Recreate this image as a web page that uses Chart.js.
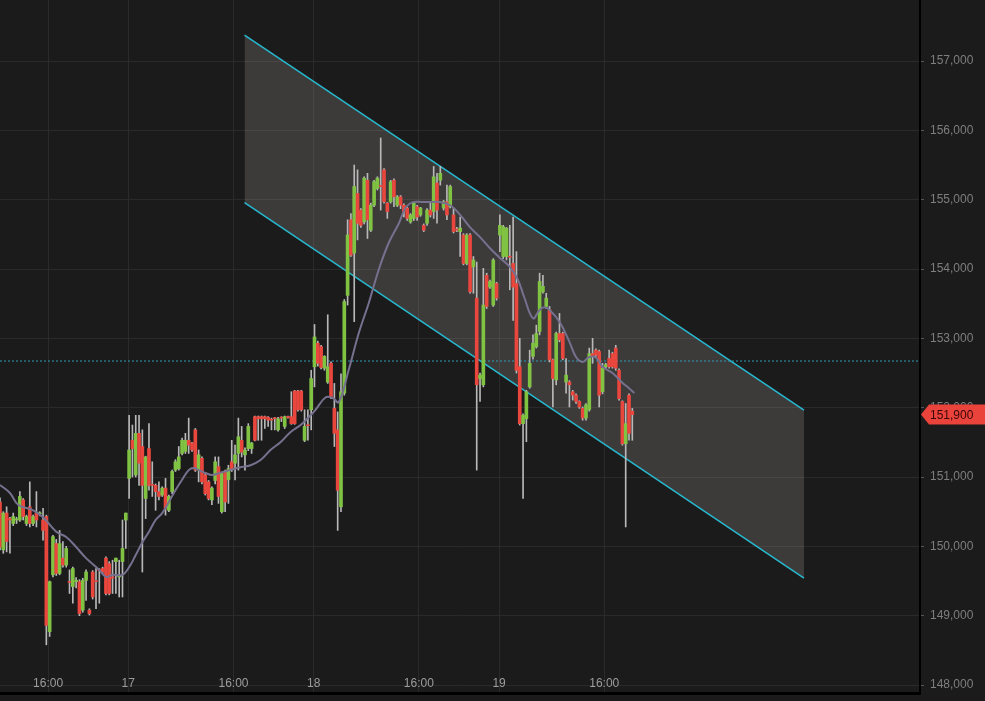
<!DOCTYPE html>
<html>
<head>
<meta charset="utf-8">
<script src="https://cdn.jsdelivr.net/npm/chart.js@4.4.1/dist/chart.umd.min.js"></script>
<style>
  html, body { margin: 0; padding: 0; background: #1c1b1b; }
  #wrap { width: 985px; height: 701px; position: relative; }
</style>
</head>
<body>
<div id="wrap"><canvas id="grafico"></canvas></div>
<script>
// candles (one per index), prices
const open = [150640,149950,150480,150400,150330,150380,150380,150670,150330,150570,150330,150480,150470,150380,150430,148770,149590,150040,149610,149830,149730,149490,149420,149490,149490,149080,149510,149080,149630,149500,149660,149680,149830,149750,149560,149780,149560,149780,150380,150980,151530,151030,151630,151440,150690,151410,150890,150880,150790,150740,150840,150520,150790,151100,151120,151340,151370,151530,151490,151680,151100,151270,151030,150930,150670,150950,151150,150500,151080,150960,151220,151200,151340,151530,151320,151410,151410,151870,151870,151870,151870,151860,151830,151850,151680,151860,151730,151870,151870,152240,152240,152240,151530,151750,151970,152590,152930,152880,152570,152370,152640,151990,151680,150570,152210,153620,154710,154230,155090,154850,154680,155280,154560,154920,155160,155200,155430,154950,154970,155280,154920,155040,154920,154880,154680,154730,154900,154780,154630,154660,154850,154830,155240,155280,154880,154970,154900,154780,154570,154540,154490,154080,154490,154030,153580,152420,152330,153910,153740,153480,153790,154490,154180,154180,154180,154080,153790,152590,151770,151840,152300,152740,152880,153100,153670,153460,153410,152690,152400,153070,153070,152370,152370,152230,152180,152090,151990,151850,151970,152780,152830,152810,152230,152590,152710,152780,152860,152540,152090,151480,152180,151950]
const high = [150700,150500,150570,150420,150480,150420,150790,150690,150450,150930,150450,150790,150500,150550,150450,149500,150160,150100,150230,150070,150000,149660,149700,149550,149520,149540,149660,149100,149650,149680,149680,149700,149850,149780,149800,149830,149800,150380,150480,151890,151750,151890,151890,151680,151300,151770,151220,150900,150930,150860,150980,150740,151100,151250,151440,151560,151630,151850,151500,151700,151390,151290,151050,150950,150860,151290,151290,151070,151100,151170,151530,151460,151850,151730,151420,151770,151500,151880,151880,151880,151880,151870,151850,151860,151860,151870,151880,151880,152230,152250,152250,152250,151970,151970,152540,153200,152960,152900,152750,153340,152660,152350,151940,152490,153560,154710,154800,155500,155430,154870,155330,155380,154950,155280,155330,155890,155450,154960,155280,155300,155060,155060,154940,154890,154800,154960,154920,154890,154650,154870,154970,155480,155380,155480,154990,155210,155210,154880,154600,154750,154510,154510,154510,154180,154100,152500,154010,153940,153840,154150,153810,154780,154630,154600,154630,154750,154250,153000,151910,152250,152830,153050,153190,153940,153910,153650,153460,152700,153090,153360,153090,152710,152390,152250,152200,152100,152010,152060,152860,153000,152850,152830,152640,152640,152830,152800,152900,152560,152100,152060,152200,151990]
const low = [149950,149900,149920,149900,150300,150330,150360,150380,150300,150280,150300,150280,150440,150090,148580,148700,149560,149580,149590,149700,149700,149320,149180,149400,149000,149050,149220,149010,149240,149100,149180,149600,149300,149300,149320,149320,149270,149270,149970,150690,151000,151000,150880,149630,150400,150810,150720,150520,150670,150720,150450,150500,150760,151080,151100,151320,151340,151340,151370,151080,150930,150900,150740,150670,150600,150900,150620,150480,150500,150620,151080,150960,151100,151290,151100,151380,151340,151520,151530,151530,151700,151730,151680,151680,151660,151800,151700,151850,151760,151760,151950,151950,151510,151530,151680,152300,152600,152560,152540,152350,152130,151440,150230,150500,152180,153480,154180,153240,154420,154600,154650,154440,154540,154900,155140,154850,154950,154730,154950,154900,154900,154870,154750,154700,154660,154700,154700,154760,154540,154630,154750,154730,154660,155210,154850,154710,154880,154520,154540,154180,154060,154060,153650,153650,151100,152090,152300,153430,153720,153460,153550,154250,154150,154130,153700,153260,152500,151750,150690,151510,152280,152700,152860,153050,153650,153430,152660,152010,152330,152950,152690,152210,152010,152110,152060,151990,151820,151820,151950,152640,152740,152010,152200,152570,152570,152570,152540,152110,151460,150280,151530,151530]
const close = [149990,150480,150070,150380,150430,150390,150720,150430,150430,150330,150430,150380,150480,150230,148860,149490,150140,149610,150040,149730,149970,149480,149680,149510,149030,149510,149630,149030,149270,149490,149650,149630,149320,149320,149540,149830,149570,149970,150480,151390,151410,151630,151200,150880,151290,150880,150880,150790,150720,150840,150550,150720,151080,151220,151290,151530,151530,151460,151390,151100,151320,150930,150760,150690,150840,151220,150720,151050,150640,151120,151120,151320,151580,151360,151390,151730,151490,151530,151840,151840,151840,151820,151820,151840,151840,151850,151870,151860,151770,151770,151970,151970,151730,151740,152420,153020,152640,152580,152740,152590,152160,151630,150810,152230,153530,154490,154200,155190,154660,154630,155310,154710,154920,155260,155310,155190,154970,154830,155260,155040,155040,154920,154830,154730,154780,154950,154750,154880,154560,154850,154780,155330,154850,155380,154970,154780,155190,154540,154560,154590,154080,154490,153670,154130,152330,152470,153480,153460,153820,154130,153580,154630,154610,154590,154170,153740,152540,151770,151890,152230,152640,152930,153070,153820,153750,153580,152690,152420,153070,152980,152710,152470,152330,152180,152090,152010,151850,152040,152780,152740,152760,152180,152570,152620,152590,152590,152570,152130,151480,151770,151630,151900]

// moving average line (candle index, price)
const maIndex = [0,3,5.5,10,13,17,20,23,26,30,32,34,37,39,41,43,45,47,49,51,53,55,57,58.5,60,62,64,66.5,69.5,72.6,75.7,78.7,81.7,84.8,87.8,90.8,93.8,95.3,98.4,100.5,102.3,105.3,108.4,111.4,114.4,117.4,120.5,122.6,124.7,127.7,130,133,136,139,142,145,148,151,154,156.5,158.3,161,163,164.4,166,169,172,174,176,178,180,182,185,188,190,191.6]
const maValue = [150885,150770,150600,150520,150420,150210,150135,149990,149830,149660,149560,149590,149590,149700,149875,150060,150210,150380,150480,150640,150810,150960,151100,151130,151100,151060,151030,151060,151100,151140,151170,151245,151390,151505,151650,151750,151890,151970,152150,152140,152080,152540,153080,153510,153990,154375,154660,154890,154965,154965,154965,154965,154920,154780,154600,154460,154300,154160,154030,153840,153600,153290,153410,153450,153410,153240,152950,152730,152660,152730,152720,152590,152500,152360,152280,152210]

// regression channel ends
const channelIndex = [73.86, 242.86]
const channelUpper = [157375, 151966]
const channelLower = [154956, 149543]
const dottedLevel = 152673

// axes
const xTickPos = [14.53, 38.75, 70.53, 94.75, 126.53, 150.75, 182.53]
const xTickText = ['16:00', '17', '16:00', '18', '16:00', '19', '16:00']
const yTickValues = [148000, 149000, 150000, 151000, 152000, 153000, 154000, 155000, 156000, 157000]
const lastPrice = close[close.length - 1]

const xMax = 277.9

const wicks = low.map((l, i) => ({ x: i, y: [l, high[i]] }))
const bodies = open.map((o, i) => ({ x: i, y: [o, close[i]] }))
const bodyColors = open.map((o, i) => close[i] >= o ? '#80c343' : '#e9473d')
const maPoints = maIndex.map((x, i) => ({ x: x, y: maValue[i] }))

const priceTag = {
    id: 'priceTag',
    afterDraw(chart) {
        const ctx = chart.ctx
        const left = chart.chartArea.right + 1
        const y = chart.scales.y.getPixelForValue(lastPrice)
        ctx.save()
        ctx.fillStyle = '#ea433c'
        ctx.beginPath()
        ctx.moveTo(left, y)
        ctx.lineTo(left + 8, y - 10)
        ctx.lineTo(chart.width, y - 10)
        ctx.lineTo(chart.width, y + 10)
        ctx.lineTo(left + 8, y + 10)
        ctx.closePath()
        ctx.fill()
        ctx.fillStyle = '#3a0707'
        ctx.font = '12px "Liberation Sans", Arial, sans-serif'
        ctx.textBaseline = 'middle'
        ctx.fillText(lastPrice.toLocaleString('en-US'), left + 9, y + 1)
        ctx.restore()
    }
}

Chart.defaults.font.family = '"Liberation Sans", Arial, sans-serif'
Chart.defaults.font.size = 12

let grafico = new Chart(document.getElementById('grafico'), {
    type: 'bar',
    data: {
        datasets: [
            {
                type: 'line',
                data: [{ x: channelIndex[0], y: channelUpper[0] }, { x: channelIndex[1], y: channelUpper[1] }],
                borderColor: '#27b9d0',
                borderWidth: 1.5,
                backgroundColor: 'rgba(235,225,225,0.16)',
                fill: '+1',
                pointRadius: 0,
                order: 6
            },
            {
                type: 'line',
                data: [{ x: channelIndex[0], y: channelLower[0] }, { x: channelIndex[1], y: channelLower[1] }],
                borderColor: '#27b9d0',
                borderWidth: 1.5,
                fill: false,
                pointRadius: 0,
                order: 5
            },
            {
                type: 'line',
                data: [{ x: 0, y: dottedLevel }, { x: xMax, y: dottedLevel }],
                borderColor: '#2a9fb8',
                borderWidth: 1,
                borderDash: [2, 2],
                pointRadius: 0,
                fill: false,
                order: 4
            },
            {
                data: wicks,
                backgroundColor: '#b8b8b8',
                barThickness: 1,
                minBarLength: 1,
                grouped: false,
                order: 3
            },
            {
                data: bodies,
                backgroundColor: bodyColors,
                barThickness: 3,
                minBarLength: 1,
                grouped: false,
                order: 2
            },
            {
                type: 'line',
                data: maPoints,
                borderColor: '#777190',
                borderWidth: 2,
                tension: 0.4,
                pointRadius: 0,
                fill: false,
                order: 1
            }
        ]
    },
    options: {
        responsive: true,
        maintainAspectRatio: false,
        animation: false,
        layout: { padding: 0 },
        plugins: {
            legend: { display: false },
            tooltip: { enabled: false }
        },
        scales: {
            x: {
                type: 'linear',
                min: 0,
                max: xMax,
                offset: false,
                afterFit: (scale) => {
                    scale.height = 8
                    scale.paddingLeft = 0
                    scale.paddingRight = 0
                },
                afterBuildTicks: (scale) => { scale.ticks = xTickPos.map(v => ({ value: v })) },
                grid: { color: '#2b2929', offset: false, drawTicks: false },
                border: { color: '#000000', width: 3 },
                ticks: {
                    autoSkip: false,
                    maxRotation: 0,
                    mirror: true,
                    padding: 2,
                    color: '#9c9c9c',
                    callback: (value, index) => xTickText[index]
                }
            },
            y: {
                position: 'right',
                min: 147885,
                max: 157880,
                afterFit: (scale) => {
                    scale.width = 65
                    scale.paddingTop = 0
                    scale.paddingBottom = 0
                },
                afterBuildTicks: (scale) => { scale.ticks = yTickValues.map(v => ({ value: v })) },
                grid: { color: '#2b2929', tickColor: '#555555', tickLength: 4 },
                border: { color: '#000000', width: 2 },
                ticks: {
                    padding: 6,
                    color: '#7e7e7e',
                    callback: (value) => value.toLocaleString('en-US')
                }
            }
        }
    },
    plugins: [priceTag]
})
</script>
</body>
</html>
